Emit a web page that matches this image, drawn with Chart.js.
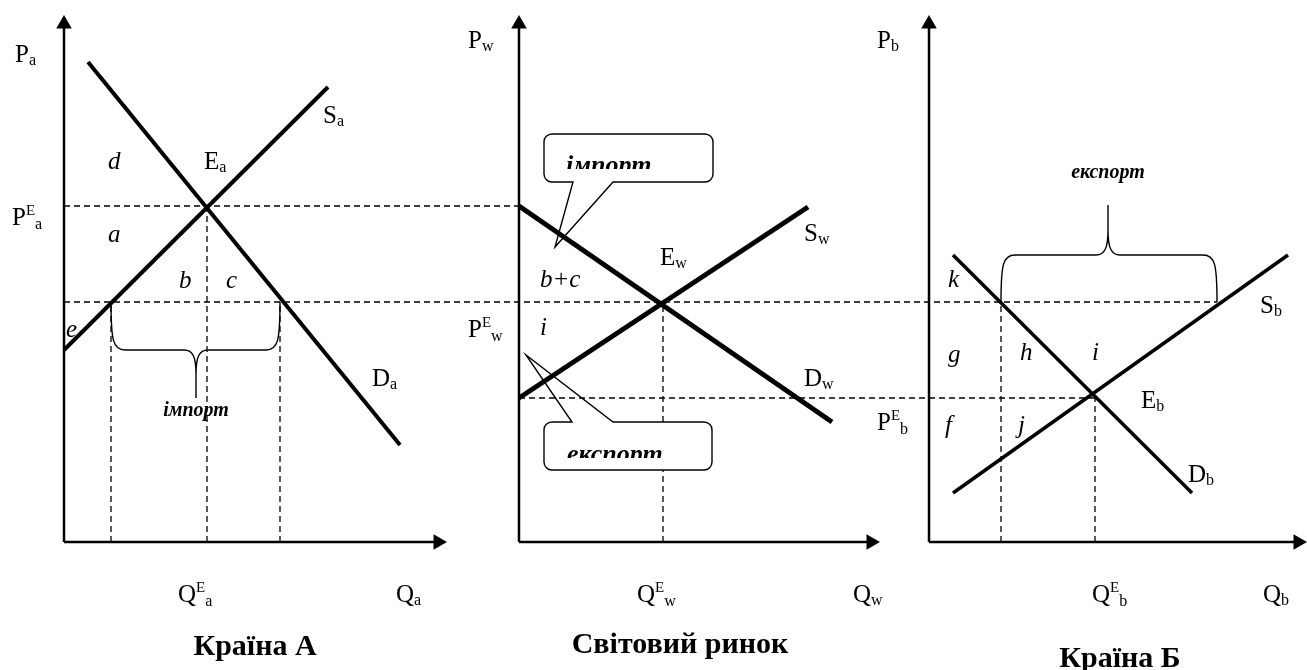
<!DOCTYPE html>
<html lang="uk">
<head>
<meta charset="utf-8">
<title>Світовий ринок</title>
<script src="https://cdn.jsdelivr.net/npm/chart.js@4.4.1/dist/chart.umd.min.js"></script>
<style>
  html, body { margin: 0; padding: 0; background: #fff; }
  #wrap { position: relative; width: 1307px; height: 670px; }
</style>
</head>
<body>
<div id="wrap"><canvas id="chart" width="1307" height="670"></canvas></div>
<script>
// --- values (quantity, price) in each panel's own units ---
const priceA = 6.72;   // P^E_a, autarky price in country A
const priceW = 4.8;    // P^E_w, world price
const priceB = 2.88;   // P^E_b, autarky price in country B

const demandA = [[0.48, 9.6], [6.72, 1.94]];
const supplyA = [[0, 3.84], [5.28, 9.1]];
const demandW = [[0, 6.72], [6.26, 2.4]];
const supplyW = [[0, 2.88], [5.78, 6.7]];
const demandB = [[0.48, 5.74], [5.26, 0.98]];
const supplyB = [[0.48, 0.98], [7.18, 5.74]];

const qA = [0.94, 2.86, 4.32]; // supply at Pw, equilibrium, demand at Pw
const qW = 2.88;               // world equilibrium
const qB = [1.44, 3.32, 5.76]; // demand at Pw, equilibrium, supply at Pw

const titles = ['Країна А', 'Світовий ринок', 'Країна Б'];

// --- layout ---
const panelOffset = [0, 9.1, 17.3];
const axisTop = 10.36;
const axisRight = [7.48, 7.04, 7.38];
const FONT = '"Liberation Serif", "Times New Roman", serif';

function pts(panel, list) {
  return list.map(([q, p]) => ({ x: panelOffset[panel] + q, y: p }));
}
function line(panel, list, width, dash) {
  return {
    data: pts(panel, list),
    showLine: true,
    borderColor: '#000',
    borderWidth: width,
    borderDash: dash || [],
    pointRadius: 0,
    fill: false
  };
}
const DASH = [6, 4];
const datasets = [];

// axes with arrow heads
[0, 1, 2].forEach(p => {
  datasets.push(Object.assign(line(p, [[0, 0], [0, axisTop]], 2.5), {
    pointRadius: [0, 9], pointStyle: 'triangle', pointBackgroundColor: '#000',
    pointBorderWidth: 0, pointRotation: [0, 0]
  }));
  datasets.push(Object.assign(line(p, [[0, 0], [axisRight[p], 0]], 2.5), {
    pointRadius: [0, 9], pointStyle: 'triangle', pointBackgroundColor: '#000',
    pointBorderWidth: 0, pointRotation: [0, 90]
  }));
});

// supply and demand
datasets.push(line(0, demandA, 4), line(0, supplyA, 4));
datasets.push(line(1, demandW, 5), line(1, supplyW, 5));
datasets.push(line(2, demandB, 3.5), line(2, supplyB, 3.5));

// price levels running across panels
datasets.push(line(0, [[0, priceA], [panelOffset[1], priceA]], 1.3, DASH));
datasets.push(line(0, [[0, priceW], [panelOffset[2] + qB[2], priceW]], 1.3, DASH));
datasets.push(line(1, [[0, priceB], [panelOffset[2] - panelOffset[1] + qB[1], priceB]], 1.3, DASH));

// quantity drops
datasets.push(line(0, [[qA[0], 0], [qA[0], priceW]], 1.3, DASH));
datasets.push(line(0, [[qA[1], 0], [qA[1], priceA]], 1.3, DASH));
datasets.push(line(0, [[qA[2], 0], [qA[2], priceW]], 1.3, DASH));
datasets.push(line(1, [[qW, 0], [qW, priceW]], 1.3, DASH));
datasets.push(line(2, [[qB[0], 0], [qB[0], priceW]], 1.3, DASH));
datasets.push(line(2, [[qB[1], 0], [qB[1], priceB]], 1.3, DASH));

// --- annotations ---
const labels = [
  { p: 0, x: -0.98, y: 9.6, t: 'P', sub: 'a' },
  { p: 0, x: 5.18, y: 8.38, t: 'S', sub: 'a' },
  { p: 0, x: 0.88, y: 7.46, t: 'd', it: true },
  { p: 0, x: 2.80, y: 7.46, t: 'E', sub: 'a' },
  { p: 0, x: -1.04, y: 6.34, t: 'P', sup: 'E', sub: 'a' },
  { p: 0, x: 0.88, y: 6.0, t: 'a', it: true },
  { p: 0, x: 2.30, y: 5.08, t: 'b', it: true },
  { p: 0, x: 3.24, y: 5.08, t: 'c', it: true },
  { p: 0, x: 0.04, y: 4.10, t: 'e', it: true },
  { p: 0, x: 6.16, y: 3.12, t: 'D', sub: 'a' },
  { p: 0, x: 2.28, y: -1.2, t: 'Q', sup: 'E', sub: 'a' },
  { p: 0, x: 6.64, y: -1.2, t: 'Q', sub: 'a' },

  { p: 1, x: -1.02, y: 9.88, t: 'P', sub: 'w' },
  { p: 1, x: 5.7, y: 6.02, t: 'S', sub: 'w' },
  { p: 1, x: 2.82, y: 5.54, t: 'E', sub: 'w' },
  { p: 1, x: 0.42, y: 5.10, t: 'b+c', it: true },
  { p: 1, x: -1.02, y: 4.10, t: 'P', sup: 'E', sub: 'w' },
  { p: 1, x: 0.42, y: 4.14, t: 'i', it: true },
  { p: 1, x: 5.7, y: 3.12, t: 'D', sub: 'w' },
  { p: 1, x: 2.36, y: -1.2, t: 'Q', sup: 'E', sub: 'w' },
  { p: 1, x: 6.68, y: -1.2, t: 'Q', sub: 'w' },

  { p: 2, x: -1.04, y: 9.88, t: 'P', sub: 'b' },
  { p: 2, x: 0.38, y: 5.10, t: 'k', it: true },
  { p: 2, x: 6.62, y: 4.58, t: 'S', sub: 'b' },
  { p: 2, x: 0.38, y: 3.6, t: 'g', it: true },
  { p: 2, x: 1.82, y: 3.64, t: 'h', it: true },
  { p: 2, x: 3.26, y: 3.64, t: 'i', it: true },
  { p: 2, x: 4.24, y: 2.68, t: 'E', sub: 'b' },
  { p: 2, x: -1.04, y: 2.24, t: 'P', sup: 'E', sub: 'b' },
  { p: 2, x: 0.32, y: 2.18, t: 'f', it: true },
  { p: 2, x: 1.78, y: 2.18, t: 'j', it: true },
  { p: 2, x: 5.18, y: 1.2, t: 'D', sub: 'b' },
  { p: 2, x: 3.26, y: -1.2, t: 'Q', sup: 'E', sub: 'b' },
  { p: 2, x: 6.68, y: -1.2, t: 'Q', sub: 'b' }
];
const titlePos = [[3.82, -2.26], [3.22, -2.22], [3.82, -2.5]];

const braces = [
  { p: 0, x1: qA[0], x2: qA[2], edge: priceW, mid: 3.84, tip: 2.88, c: 2.64, text: 'імпорт', ty: 2.52 },
  { p: 2, x1: qB[0], x2: qB[2], edge: priceW, mid: 5.74, tip: 6.74, c: 3.58, text: 'експорт', ty: 7.28 }
];
const callouts = [
  { p: 1, left: 0.5, right: 3.88, top: 8.16, bottom: 7.2, side: 'bottom',
    b1: 1.08, b2: 1.88, tip: [0.72, 5.9], text: 'імпорт', tx: 0.94, ty: 7.38, clip: 7.46 },
  { p: 1, left: 0.5, right: 3.86, top: 2.4, bottom: 1.44, side: 'top',
    b1: 1.06, b2: 1.88, tip: [0.14, 3.74], text: 'експорт', tx: 0.96, ty: 1.6, clip: 1.68 }
];

const annotate = {
  id: 'annotate',
  afterDatasetsDraw(chart) {
    const ctx = chart.ctx;
    const sx = chart.scales.x, sy = chart.scales.y;
    const X = (p, q) => sx.getPixelForValue(panelOffset[p] + q);
    const Y = v => sy.getPixelForValue(v);
    ctx.save();
    ctx.fillStyle = '#000';
    ctx.strokeStyle = '#000';
    ctx.textBaseline = 'alphabetic';

    // braces
    ctx.lineWidth = 1.4;
    braces.forEach(b => {
      const x1 = X(b.p, b.x1), x2 = X(b.p, b.x2), xc = X(b.p, b.c);
      const ye = Y(b.edge), ym = Y(b.mid), yt = Y(b.tip);
      const d = ym - ye, r = 14, k = 12;
      ctx.beginPath();
      ctx.moveTo(x1, ye);
      ctx.bezierCurveTo(x1, ye + d * 0.8, x1 + 2, ym, x1 + r, ym);
      ctx.lineTo(xc - k, ym);
      ctx.bezierCurveTo(xc - 3, ym, xc, ym + (yt - ym) * 0.15, xc, ym + (yt - ym) * 0.5);
      ctx.lineTo(xc, yt);
      ctx.moveTo(xc, ym + (yt - ym) * 0.5);
      ctx.bezierCurveTo(xc, ym + (yt - ym) * 0.15, xc + 3, ym, xc + k, ym);
      ctx.lineTo(x2 - r, ym);
      ctx.bezierCurveTo(x2 - 2, ym, x2, ye + d * 0.8, x2, ye);
      ctx.stroke();
      ctx.font = 'italic bold 20px ' + FONT;
      ctx.textAlign = 'center';
      ctx.fillText(b.text, xc, Y(b.ty));
    });

    // callouts
    callouts.forEach(c => {
      const l = X(c.p, c.left), r = X(c.p, c.right), t = Y(c.top), bt = Y(c.bottom);
      const b1 = X(c.p, c.b1), b2 = X(c.p, c.b2);
      const tx = X(c.p, c.tip[0]), ty = Y(c.tip[1]);
      const rad = 8;
      ctx.fillStyle = '#fff';
      ctx.beginPath();
      ctx.roundRect(l, t, r - l, bt - t, rad);
      ctx.fill();
      ctx.beginPath();
      ctx.moveTo(l + rad, t);
      if (c.side === 'top') { ctx.lineTo(b1, t); ctx.lineTo(tx, ty); ctx.lineTo(b2, t); }
      ctx.lineTo(r - rad, t);
      ctx.arcTo(r, t, r, t + rad, rad);
      ctx.lineTo(r, bt - rad);
      ctx.arcTo(r, bt, r - rad, bt, rad);
      if (c.side === 'bottom') { ctx.lineTo(b2, bt); ctx.lineTo(tx, ty); ctx.lineTo(b1, bt); }
      ctx.lineTo(l + rad, bt);
      ctx.arcTo(l, bt, l, bt - rad, rad);
      ctx.lineTo(l, t + rad);
      ctx.arcTo(l, t, l + rad, t, rad);
      ctx.lineWidth = 1.4;
      ctx.stroke();
      ctx.save();
      ctx.beginPath();
      ctx.rect(l, t, r - l, Y(c.clip) - t);
      ctx.clip();
      ctx.fillStyle = '#000';
      ctx.font = 'italic bold 26px ' + FONT;
      ctx.textAlign = 'left';
      ctx.fillText(c.text, X(c.p, c.tx), Y(c.ty));
      ctx.restore();
      ctx.fillStyle = '#000';
    });

    // letter labels with sub/superscripts
    ctx.textAlign = 'left';
    labels.forEach(lb => {
      let x = X(lb.p, lb.x);
      const y = Y(lb.y);
      ctx.font = (lb.it ? 'italic ' : '') + '25px ' + FONT;
      ctx.fillText(lb.t, x, y);
      x += ctx.measureText(lb.t).width;
      if (lb.sup) {
        ctx.font = '15px ' + FONT;
        ctx.fillText(lb.sup, x, y - 10);
        x += ctx.measureText(lb.sup).width;
      }
      if (lb.sub) {
        ctx.font = '16px ' + FONT;
        ctx.fillText(lb.sub, x, y + (lb.sup ? 4 : 3));
      }
    });

    // panel titles
    ctx.font = 'bold 30px ' + FONT;
    ctx.textAlign = 'center';
    titles.forEach((t, i) => ctx.fillText(t, X(i, titlePos[i][0]), Y(titlePos[i][1])));
    ctx.restore();
  }
};

new Chart(document.getElementById('chart'), {
  type: 'scatter',
  data: { datasets },
  options: {
    responsive: false,
    animation: false,
    events: [],
    layout: { padding: 0, autoPadding: false },
    plugins: { legend: { display: false }, tooltip: { enabled: false } },
    scales: {
      x: { type: 'linear', display: false, min: -1.28, max: 24.86 },
      y: { type: 'linear', display: false, min: -2.56, max: 10.84 }
    }
  },
  plugins: [annotate]
});
</script>
</body>
</html>
